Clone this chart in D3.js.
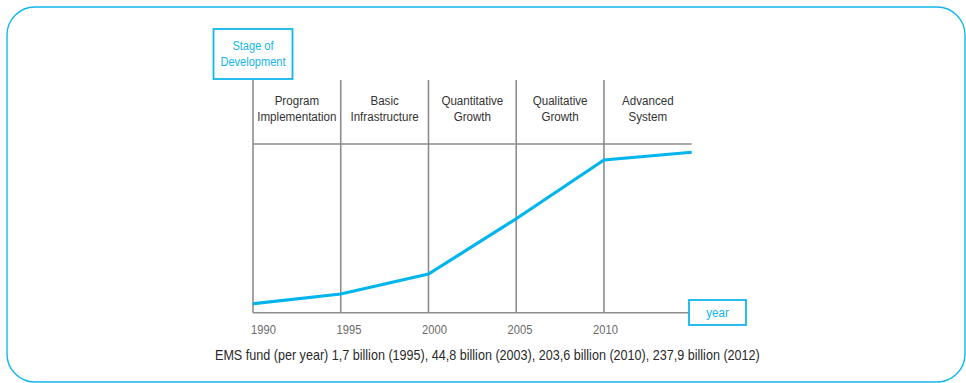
<!DOCTYPE html>
<html>
<head>
<meta charset="utf-8">
<script src="https://cdn.jsdelivr.net/npm/d3@7"></script>
<style>
  html, body { margin: 0; padding: 0; background: #ffffff; }
  svg { display: block; }
  text { font-family: "Liberation Sans", Arial, sans-serif; }
</style>
</head>
<body>
<svg id="chart" width="966" height="383"></svg>
<script>
// Development stages and the growth curve across them
const years = [1990, 1995, 2000, 2005, 2010, 2015];
const stageLevel = [5.3, 11.1, 22.9, 55.7, 90.5, 95.1];
const tickYears = [1990, 1995, 2000, 2005, 2010];
const stageStart = [1990, 1995, 2000, 2005, 2010];
const stageNames = [
  ["Program", "Implementation"],
  ["Basic", "Infrastructure"],
  ["Quantitative", "Growth"],
  ["Qualitative", "Growth"],
  ["Advanced", "System"]
];
const fundYears = [1995, 2003, 2010, 2012];
const fundAmounts = ["1,7", "44,8", "203,6", "237,9"];

const CYAN = "#12b6ec";
const GRID = "#8d8d8d";
const NARROW = 0.86; // horizontal squeeze for a condensed gothic look

const svg = d3.select("#chart");

// text placed at (px, py), squeezed horizontally; lines stacked by lineH
function label(parent, px, py, lines, opts) {
  const g = parent.append("g")
    .attr("transform", `translate(${px},${py}) scale(${opts.sx || NARROW},1)`);
  const t = g.append("text")
    .attr("x", 0).attr("y", 0)
    .attr("text-anchor", opts.anchor || "start")
    .attr("font-size", opts.size)
    .attr("fill", opts.fill);
  lines.forEach((s, k) => {
    t.append("tspan").attr("x", 0).attr("dy", k === 0 ? 0 : opts.lineH).text(s);
  });
  return t;
}

// outer rounded frame
svg.append("rect")
  .attr("x", 7).attr("y", 7)
  .attr("width", 958).attr("height", 375)
  .attr("rx", 28).attr("ry", 28)
  .attr("fill", "none")
  .attr("stroke", CYAN)
  .attr("stroke-width", 1.4);

const x = d3.scaleLinear().domain([1990, 2015]).range([253, 691.7]);
const y = d3.scaleLinear().domain([0, 100]).range([312.7, 144]);
const xLabel = d3.scaleLinear().domain([1990, 2010]).range([251, 593]);

const gridTop = 80;

// vertical stage dividers
svg.append("g").selectAll("line")
  .data(tickYears)
  .join("line")
  .attr("x1", d => x(d)).attr("x2", d => x(d))
  .attr("y1", gridTop).attr("y2", y(0))
  .attr("stroke", GRID).attr("stroke-width", 1.6);

// header separator
svg.append("line")
  .attr("x1", x(1990)).attr("x2", x(2015))
  .attr("y1", y(100)).attr("y2", y(100))
  .attr("stroke", GRID).attr("stroke-width", 1.6);

// year axis baseline (runs to the "year" box)
const yearBox = { w: 57, h: 25 };
const yearBoxX = x(2015) - 2.7;
svg.append("line")
  .attr("x1", x(1990)).attr("x2", yearBoxX)
  .attr("y1", y(0)).attr("y2", y(0))
  .attr("stroke", GRID).attr("stroke-width", 1.6);

// stage names
const stageG = svg.append("g");
stageNames.forEach((lines, i) => {
  const cx = (x(stageStart[i]) + x(stageStart[i] + 5)) / 2;
  label(stageG, cx, 105, lines, { anchor: "middle", size: 13.5, fill: "#333333", lineH: 16.5 });
});

// growth curve
const line = d3.line()
  .x((d, i) => x(years[i]))
  .y(d => y(d));
svg.append("path")
  .datum(stageLevel)
  .attr("d", line)
  .attr("fill", "none")
  .attr("stroke", "#00b4ee")
  .attr("stroke-width", 3.2)
  .attr("stroke-linejoin", "miter");

// year tick labels
const tickG = svg.append("g");
tickYears.forEach(d => {
  label(tickG, xLabel(d), 333.5, [String(d)], { size: 13, fill: "#6a6a6a" });
});

// "Stage of Development" box on top of the vertical axis
svg.append("rect")
  .attr("x", x(1990) - 39.5).attr("y", 29)
  .attr("width", 79).attr("height", 50)
  .attr("fill", "#ffffff")
  .attr("stroke", CYAN).attr("stroke-width", 1.8);
label(svg, x(1990), 50, ["Stage of", "Development"],
  { anchor: "middle", size: 13.5, fill: CYAN, lineH: 16, sx: 0.82 });

// "year" box at the end of the horizontal axis
svg.append("rect")
  .attr("x", yearBoxX).attr("y", y(0) - 12.7)
  .attr("width", yearBox.w).attr("height", yearBox.h)
  .attr("fill", "#ffffff")
  .attr("stroke", CYAN).attr("stroke-width", 1.8);
label(svg, yearBoxX + yearBox.w / 2, y(0) + 4.5, ["year"],
  { anchor: "middle", size: 13.5, fill: CYAN });

// fund note
const note = "EMS fund (per year) " +
  fundAmounts.map((a, i) => `${a} billion (${fundYears[i]})`).join(", ");
label(svg, 215, 360, [note], { size: 14, fill: "#2a2a2a", sx: 0.9 });
</script>
</body>
</html>
